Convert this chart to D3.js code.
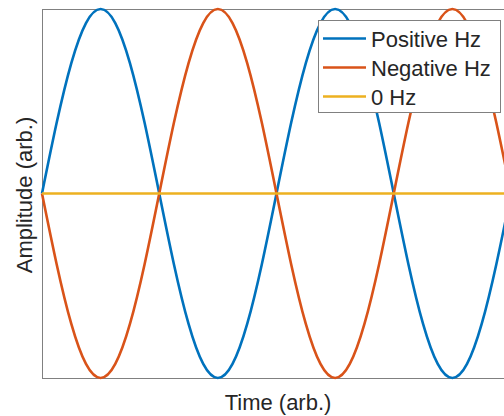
<!DOCTYPE html>
<html>
<head>
<meta charset="utf-8">
<script src="https://cdn.jsdelivr.net/npm/d3@7"></script>
<style>
  body { margin: 0; background: #fff; }
  text { font-family: "Liberation Sans", Arial, sans-serif; fill: #262626; }
</style>
</head>
<body>
<svg id="chart"></svg>
<script>
// samples every 1/16 of a cycle, two full cycles
const time = [0, 0.0625, 0.125, 0.1875, 0.25, 0.3125, 0.375, 0.4375, 0.5,
  0.5625, 0.625, 0.6875, 0.75, 0.8125, 0.875, 0.9375, 1,
  1.0625, 1.125, 1.1875, 1.25, 1.3125, 1.375, 1.4375, 1.5,
  1.5625, 1.625, 1.6875, 1.75, 1.8125, 1.875, 1.9375, 2];
const positiveHz = [0, 0.383, 0.707, 0.924, 1, 0.924, 0.707, 0.383, 0,
  -0.383, -0.707, -0.924, -1, -0.924, -0.707, -0.383, 0,
  0.383, 0.707, 0.924, 1, 0.924, 0.707, 0.383, 0,
  -0.383, -0.707, -0.924, -1, -0.924, -0.707, -0.383, 0];
const negativeHz = [0, -0.383, -0.707, -0.924, -1, -0.924, -0.707, -0.383, 0,
  0.383, 0.707, 0.924, 1, 0.924, 0.707, 0.383, 0,
  -0.383, -0.707, -0.924, -1, -0.924, -0.707, -0.383, 0,
  0.383, 0.707, 0.924, 1, 0.924, 0.707, 0.383, 0];
const zeroHz = [0, 0, 0, 0, 0, 0, 0, 0, 0, 0, 0, 0, 0, 0, 0, 0, 0,
  0, 0, 0, 0, 0, 0, 0, 0, 0, 0, 0, 0, 0, 0, 0, 0];
const seriesNames = ["Positive Hz", "Negative Hz", "0 Hz"];
const colors = ["#0072BD", "#D95319", "#EDB120"];

const width = 504, height = 416;
const plotLeft = 42, plotRight = 511, plotTop = 9, plotBottom = 378;

const svg = d3.select("#chart")
    .attr("width", width)
    .attr("height", height);

const x = d3.scaleLinear().domain([0, 2]).range([plotLeft, plotRight]);
const y = d3.scaleLinear().domain([-1, 1]).range([plotBottom, plotTop]);

// axes box
svg.append("rect")
    .attr("x", plotLeft + 0.5)
    .attr("y", plotTop + 0.5)
    .attr("width", plotRight - plotLeft)
    .attr("height", plotBottom - plotTop)
    .attr("fill", "none")
    .attr("stroke", "#808080")
    .attr("stroke-width", 1);

const line = d3.line()
    .x((d, i) => x(time[i]))
    .y(d => y(d))
    .curve(d3.curveNatural);

const allSeries = [positiveHz, negativeHz, zeroHz];

svg.append("g")
    .selectAll("path")
    .data(allSeries)
    .enter().append("path")
    .attr("d", line)
    .attr("fill", "none")
    .attr("stroke", (d, i) => colors[i])
    .attr("stroke-width", 2.6);

// axis labels
svg.append("text")
    .attr("x", 278)
    .attr("y", 410)
    .attr("text-anchor", "middle")
    .style("font-size", "22px")
    .text("Time (arb.)");

svg.append("text")
    .attr("transform", "translate(32,195) rotate(-90)")
    .attr("text-anchor", "middle")
    .style("font-size", "22px")
    .text("Amplitude (arb.)");

// legend
const legend = svg.append("g").attr("transform", "translate(318,20)");
legend.append("rect")
    .attr("x", 0.5)
    .attr("y", 0.5)
    .attr("width", 182)
    .attr("height", 92)
    .attr("fill", "#fff")
    .attr("stroke", "#808080");

const items = legend.selectAll("g.item")
    .data(seriesNames)
    .enter().append("g")
    .attr("class", "item")
    .attr("transform", (d, i) => `translate(0,${18.5 + i * 29})`);

items.append("line")
    .attr("x1", 5).attr("x2", 48)
    .attr("y1", 0).attr("y2", 0)
    .attr("stroke", (d, i) => colors[i])
    .attr("stroke-width", 2.6);

items.append("text")
    .attr("x", 53)
    .attr("y", 8)
    .style("font-size", "22px")
    .text(d => d);
</script>
</body>
</html>
